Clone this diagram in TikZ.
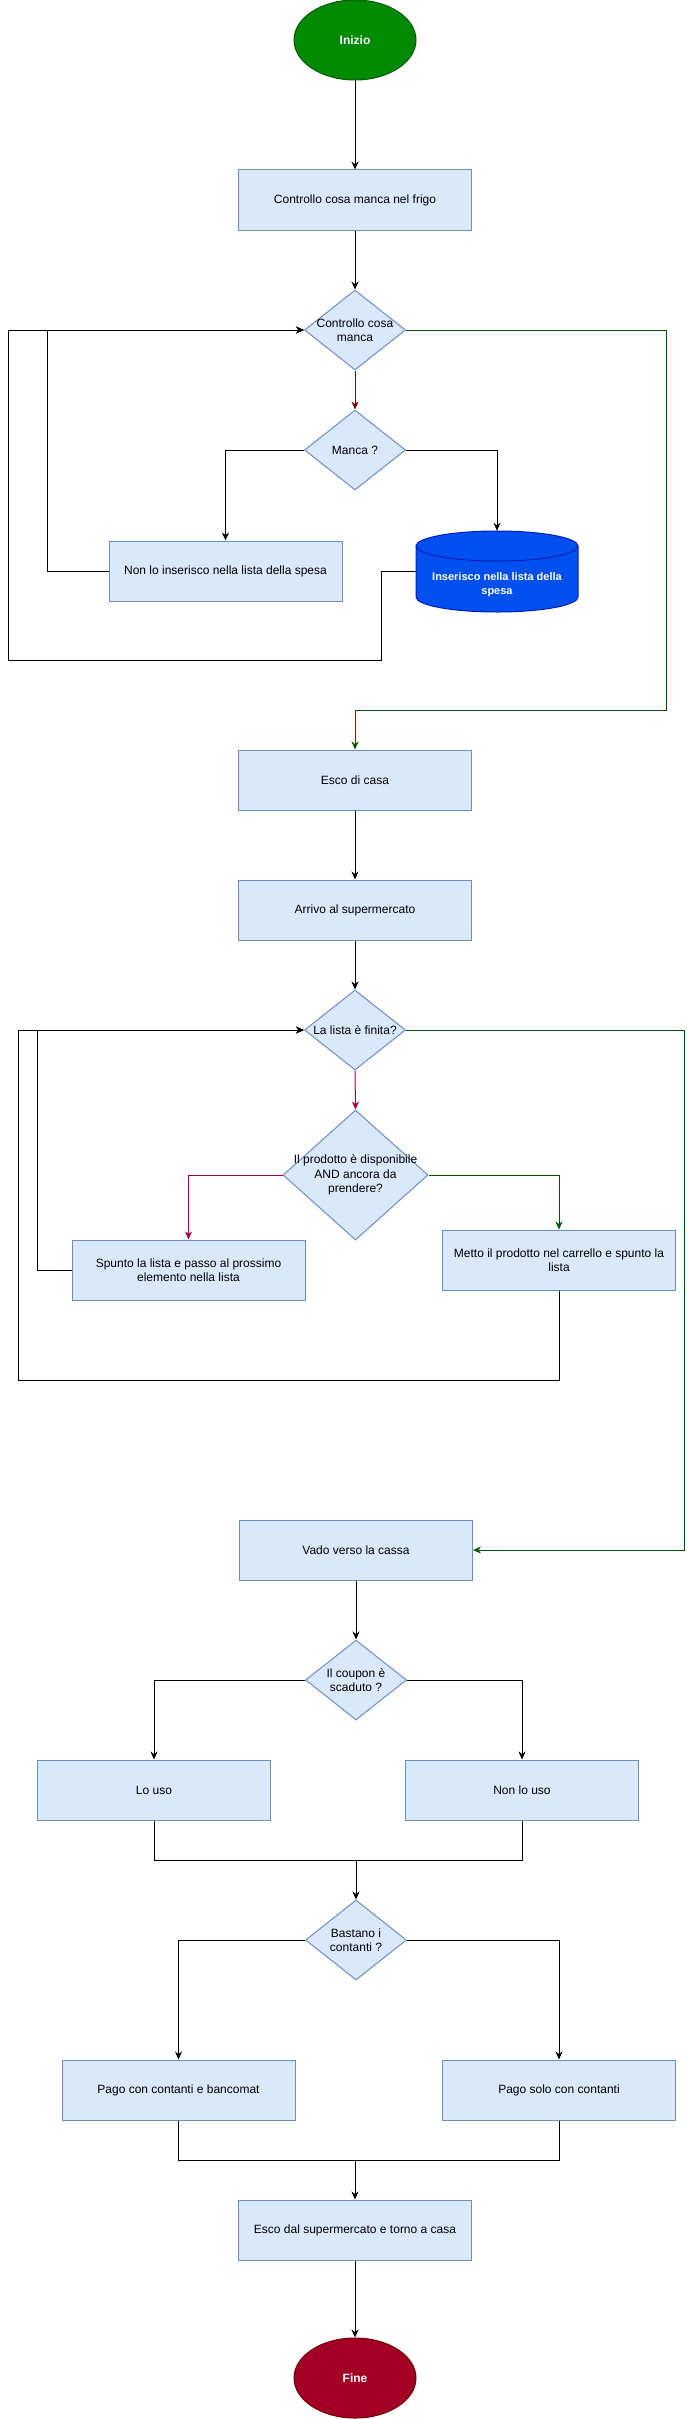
\documentclass[tikz,border=0pt]{standalone}
\usepackage{fontspec}
\setmainfont{Liberation Sans}
\usepackage{xcolor}
\usepackage{tikz}
\usetikzlibrary{shapes.geometric}
\usetikzlibrary{arrows.meta}
\definecolor{boxfill}{HTML}{DAE8FC}
\definecolor{boxline}{HTML}{6C8EBF}
\definecolor{startfill}{HTML}{008A00}
\definecolor{startline}{HTML}{005700}
\definecolor{endfill}{HTML}{A20025}
\definecolor{endline}{HTML}{6F0000}
\definecolor{dbfill}{HTML}{0050EF}
\definecolor{dbline}{HTML}{001DBC}
\definecolor{yesline}{HTML}{005700}
\definecolor{noline}{HTML}{6F0000}
\definecolor{noline2}{HTML}{A50040}
\newcommand{\txt}{\fontsize{12pt}{14.5pt}\selectfont}
\tikzset{
	process/.style={
			draw=boxline, fill=boxfill, line width=1pt,
			minimum width=233pt, minimum height=60pt, inner sep=0pt,
			align=center, font=\txt
		},
	asktext/.style={align=center, font=\txt, inner sep=0pt},
	decision/.style={
			diamond, draw=boxline, fill=boxfill, line width=1pt,
			minimum width=101pt, minimum height=80pt, inner sep=0pt,
			label={[asktext]center:#1}
		},
	terminal/.style={
			ellipse, line width=1pt, minimum width=122pt, minimum height=80pt,
			inner sep=0pt, text=white, font=\txt\bfseries
		},
	database/.style={
			minimum width=162pt, minimum height=81pt, inner sep=0pt,
			label={[asktext, text=white, font=\fontsize{11pt}{14.5pt}\selectfont\bfseries, yshift=-13pt]center:#1}
		},
	flow/.style={line width=1pt, -{Stealth[length=8pt,width=7pt,inset=2.5pt]}},
	link/.style={line width=1pt}
}

\begin{document}
\begin{tikzpicture}[x=1pt,y=-1pt]
	\useasboundingbox (0,0) rectangle (686,2419);
	\node[terminal, fill=startfill, draw=startline] (start) at (355,40) {Inizio};
	\node[process] (frigo) at (355,200) {Controllo cosa manca nel frigo};
	\node[decision={Controllo cosa\\manca}] (cosa) at (355,330) {};
	\node[decision={Manca ?}] (manca) at (355,450) {};
	\node[process] (noins) at (225.5,571) {Non lo inserisco nella lista della spesa};
	\filldraw[fill=dbfill, draw=dbline, line width=1pt] (416,546) -- (416,597) arc[start angle=180, end angle=360, x radius=81pt, y radius=15pt] -- (578,546) arc[start angle=0, end angle=180, x radius=81pt, y radius=15pt] -- cycle;
	\draw[dbline, line width=1pt] (416,546) arc[start angle=180, end angle=360, x radius=81pt, y radius=15pt];
	\node[database={Inserisco nella lista della\\spesa}] (ins) at (497,571.5) {};
	\node[process] (esco) at (355,780) {Esco di casa};
	\node[process] (arrivo) at (355,910) {Arrivo al supermercato};
	\node[decision={La lista è finita?}] (finita) at (355,1030) {};
	\node[decision={Il prodotto è disponibile\\AND ancora da\\prendere?}, minimum width=145pt, minimum height=130pt] (prodotto) at (355.5,1175) {};
	\node[process] (spunto) at (188.5,1270) {Spunto la lista e passo al prossimo\\elemento nella lista};
	\node[process] (metto) at (559,1260) {Metto il prodotto nel carrello e spunto la\\lista};
	\node[process] (cassa) at (356,1550) {Vado verso la cassa};
	\node[decision={Il coupon è\\scaduto ?}] (coupon) at (356,1680) {};
	\node[process] (uso) at (154,1790) {Lo uso};
	\node[process] (nonuso) at (522,1790) {Non lo uso};
	\node[decision={Bastano i\\contanti ?}] (contanti) at (356,1940) {};
	\node[process] (bancomat) at (178.5,2090) {Pago con contanti e bancomat};
	\node[process] (solo) at (559,2090) {Pago solo con contanti};
	\node[process] (uscita) at (355,2230) {Esco dal supermercato e torno a casa};
	\node[terminal, fill=endfill, draw=endline] (fine) at (355,2378) {Fine};
	\coordinate (join1) at (356,1860);
	\coordinate (join2) at (355,2160);

	\draw[flow] (start) -- (frigo);
	\draw[flow] (frigo) -- (cosa);
	\draw[flow, noline] (cosa.south) -- (manca.north);
	\draw[flow] (manca.west) -| (noins.north);
	\draw[flow] (manca.east) -| (ins.north);
	\draw[flow] (noins.west) -- ++(-61,0) |- (cosa.west);
	\draw[flow] (ins.west) -- ++(-34,0) |- (8,660) |- (cosa.west);
	\draw[flow, yesline] (cosa.east) -| (666,710) -| (esco.north);
	\draw[flow] (esco) -- (arrivo);
	\draw[flow] (arrivo) -- (finita);
	\draw[flow, noline2] (finita.south) -- (prodotto.north);
	\draw[flow, noline2] (prodotto.west) -| (spunto.north);
	\draw[flow, yesline] (prodotto.east) -| (metto.north);
	\draw[flow] (spunto.west) -- ++(-34,0) |- (finita.west);
	\draw[flow] (metto.south) |- (18,1380) |- (finita.west);
	\draw[flow, yesline] (finita.east) -- (684,1030) |- (cassa.east);
	\draw[flow] (cassa) -- (coupon);
	\draw[flow] (coupon.west) -| (uso.north);
	\draw[flow] (coupon.east) -| (nonuso.north);
	\draw[link] (uso.south) |- (join1) -| (nonuso.south);
	\draw[flow] (join1) -- (contanti.north);
	\draw[flow] (contanti.west) -| (bancomat.north);
	\draw[flow] (contanti.east) -| (solo.north);
	\draw[link] (bancomat.south) |- (join2) -| (solo.south);
	\draw[flow] (join2) -- (uscita);
	\draw[flow] (uscita) -- (fine);
\end{tikzpicture}
\end{document}
